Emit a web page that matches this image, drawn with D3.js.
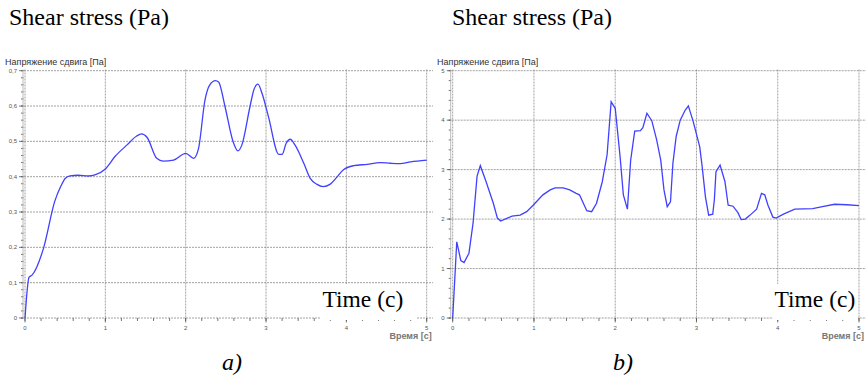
<!DOCTYPE html>
<html><head><meta charset="utf-8">
<script src="https://cdn.jsdelivr.net/npm/d3@7"></script>
<style>
body{margin:0;background:#fff;}
svg{display:block;}
.serif{font-family:'Liberation Serif','Times New Roman',Times,'DejaVu Serif',serif;}
.sans{font-family:'Liberation Sans',Arial,'DejaVu Sans',sans-serif;}
</style></head>
<body>
<svg id="c" width="866" height="380"></svg>
<script>
// ---- Data ----
const leftTime   = [0,0.05,0.09,0.23,0.37,0.45,0.5,0.56,0.66,0.79,0.87,1.0,1.12,1.27,1.39,1.45,1.52,1.64,1.72,1.85,2.0,2.1,2.16,2.24,2.3,2.37,2.41,2.49,2.59,2.65,2.7,2.8,2.85,2.9,2.95,3.03,3.16,3.2,3.25,3.3,3.36,3.47,3.55,3.63,3.71,3.8,3.88,3.96,4.09,4.26,4.42,4.55,4.67,4.8,5.0];
const leftStress = [0,0.115,0.122,0.197,0.33,0.375,0.395,0.402,0.404,0.402,0.405,0.422,0.457,0.49,0.515,0.521,0.511,0.452,0.444,0.447,0.466,0.452,0.48,0.617,0.66,0.672,0.668,0.598,0.499,0.473,0.49,0.598,0.647,0.662,0.636,0.57,0.463,0.463,0.494,0.506,0.49,0.438,0.395,0.379,0.372,0.379,0.398,0.419,0.431,0.435,0.44,0.438,0.437,0.442,0.447];

const rightTime   = [0,0.05,0.1,0.14,0.2,0.25,0.3,0.34,0.41,0.5,0.55,0.59,0.73,0.83,0.91,0.99,1.11,1.2,1.26,1.36,1.44,1.52,1.56,1.65,1.71,1.77,1.84,1.9,1.95,2.0,2.06,2.1,2.15,2.19,2.24,2.31,2.34,2.39,2.45,2.51,2.56,2.6,2.64,2.68,2.71,2.75,2.8,2.86,2.9,2.96,3.04,3.07,3.11,3.15,3.2,3.22,3.24,3.29,3.35,3.39,3.45,3.51,3.55,3.6,3.66,3.74,3.8,3.84,3.88,3.94,3.98,4.07,4.21,4.43,4.55,4.7,4.85,5.0];
const rightStress = [0,1.54,1.16,1.12,1.31,1.91,2.87,3.08,2.76,2.32,2.02,1.96,2.06,2.08,2.15,2.28,2.49,2.59,2.63,2.63,2.59,2.52,2.49,2.17,2.15,2.32,2.75,3.3,4.37,4.24,3.26,2.49,2.2,3.19,3.78,3.79,3.85,4.14,3.99,3.6,3.19,2.59,2.25,2.35,3.13,3.67,4.0,4.2,4.29,3.97,3.46,3.06,2.45,2.08,2.1,2.39,2.96,3.09,2.76,2.28,2.26,2.13,1.99,2.0,2.08,2.2,2.52,2.49,2.28,2.04,2.02,2.1,2.2,2.21,2.25,2.3,2.29,2.27];

const xTicks = [0,1,2,3,4,5];
const xTickLabels = ["0","1","2","3","4","5"];
const leftYTicks = [0,0.1,0.2,0.3,0.4,0.5,0.6,0.7];
const leftYTickLabels = ["0","0,1","0,2","0,3","0,4","0,5","0,6","0,7"];
const rightYTicks = [0,1,2,3,4,5];
const rightYTickLabels = ["0","1","2","3","4","5"];

const headerTitle = "Shear stress (Pa)";
const innerTitle = "Напряжение сдвига [Па]";
const xAxisTitle = "Время [с]";
const timeLabel = "Time (c)";
const panelLabels = ["a)", "b)"];

// ---- Drawing ----
const svg = d3.select("#c");
const gridColor = "#8a8a8a";
const lineColor = "#4040ff";

function panel(opt){
  const g = svg.append("g");
  const x = d3.scaleLinear().domain([0,5]).range([opt.x0, opt.x1]);
  const y = d3.scaleLinear().domain([0,opt.ymax]).range([318, 70.7]);

  g.selectAll(".vg").data(xTicks).join("line")
    .attr("x1", d=>x(d)).attr("x2", d=>x(d))
    .attr("y1", 69.5).attr("y2", 318)
    .attr("stroke", gridColor).attr("stroke-width", 0.8).attr("stroke-dasharray","2,1");
  g.selectAll(".hg").data(opt.yTicks).join("line")
    .attr("x1", opt.x0 - 4).attr("x2", opt.gridEnd)
    .attr("y1", d=>y(d)).attr("y2", d=>y(d))
    .attr("stroke", gridColor).attr("stroke-width", 0.8).attr("stroke-dasharray","2,1");

  const yMinor = d3.range(0, opt.ymax + 1e-9, opt.yMinorStep);
  g.selectAll(".ym").data(yMinor).join("line")
    .attr("x1", opt.x0 - 4).attr("x2", opt.x0 - 1.5)
    .attr("y1", d=>y(d)).attr("y2", d=>y(d))
    .attr("stroke", "#555").attr("stroke-width", 0.8);
  g.selectAll(".yM").data(opt.yTicks).join("line")
    .attr("x1", opt.x0 - 6).attr("x2", opt.x0 - 1.5)
    .attr("y1", d=>y(d)).attr("y2", d=>y(d))
    .attr("stroke", "#555").attr("stroke-width", 0.8);
  g.append("line").attr("x1", opt.x0 - 2).attr("x2", opt.x0 - 2)
    .attr("y1", 69.5).attr("y2", 318).attr("stroke","#aaa").attr("stroke-width",0.8);

  const xMinor = d3.range(0, 5.0001, 0.2);
  g.selectAll(".xm").data(xMinor).join("line")
    .attr("x1", d=>x(d)).attr("x2", d=>x(d))
    .attr("y1", 318).attr("y2", 321)
    .attr("stroke", "#555").attr("stroke-width", 0.8);
  g.selectAll(".xM").data(xTicks).join("line")
    .attr("x1", d=>x(d)).attr("x2", d=>x(d))
    .attr("y1", 318).attr("y2", 322.5)
    .attr("stroke", "#555").attr("stroke-width", 0.8);

  g.selectAll(".xl").data(xTicks).join("text").attr("class","sans")
    .attr("x", d=>x(d)).attr("y", 330)
    .attr("text-anchor","middle")
    .attr("font-size",6).attr("fill","#555")
    .text((d,i)=>xTickLabels[i]);
  g.selectAll(".yl").data(opt.yTicks).join("text").attr("class","sans")
    .attr("x", opt.x0 - 8).attr("y", d=>y(d)+2)
    .attr("text-anchor","end")
    .attr("font-size",6).attr("fill","#555")
    .text((d,i)=>opt.yLabels[i]);

  g.append("text").attr("class","sans").attr("x", opt.titleX).attr("y", 64.5)
    .attr("font-size",9).attr("fill","#333")
    .text(innerTitle);
  g.append("text").attr("class","sans").attr("x", opt.x1 + 5).attr("y", 338.5).attr("text-anchor","end")
    .attr("font-size",9).attr("font-weight","bold").attr("fill","#777")
    .text(xAxisTitle);

  const data = opt.t.map((t,i)=>[t, opt.v[i]]);
  g.append("path").datum(data)
    .attr("fill","none").attr("stroke", lineColor).attr("stroke-width",1.3)
    .attr("d", d3.line().x(d=>x(d[0])).y(d=>y(d[1])).curve(opt.curve));

  g.append("rect").attr("x", opt.boxX).attr("y", 284).attr("width", opt.boxW).attr("height", 36).attr("fill","#fff");
  g.append("text").attr("class","serif").attr("x", opt.boxX + 1.5).attr("y", 306.5)
    .attr("font-size",23.5).attr("fill","#000")
    .text(timeLabel);

  svg.append("text").attr("class","serif").attr("x", opt.headX).attr("y", 25)
    .attr("font-size",24).attr("fill","#000")
    .text(headerTitle);
  svg.append("text").attr("class","serif").attr("x", opt.labX).attr("y", 370)
    .attr("font-size",24).attr("font-style","italic").attr("fill","#000")
    .text(opt.label);
}

panel({x0:25, x1:426.7, gridEnd:433, ymax:0.7, yTicks:leftYTicks, yLabels:leftYTickLabels, yMinorStep:0.02,
  t:leftTime, v:leftStress, curve:d3.curveMonotoneX, titleX:5, boxX:321, boxW:96, headX:9, labX:222, label:panelLabels[0]});
panel({x0:452.7, x1:859, gridEnd:866, ymax:5, yTicks:rightYTicks, yLabels:rightYTickLabels, yMinorStep:0.2,
  t:rightTime, v:rightStress, curve:d3.curveLinear, titleX:437, boxX:773, boxW:85, headX:452, labX:613, label:panelLabels[1]});
</script>
</body></html>
